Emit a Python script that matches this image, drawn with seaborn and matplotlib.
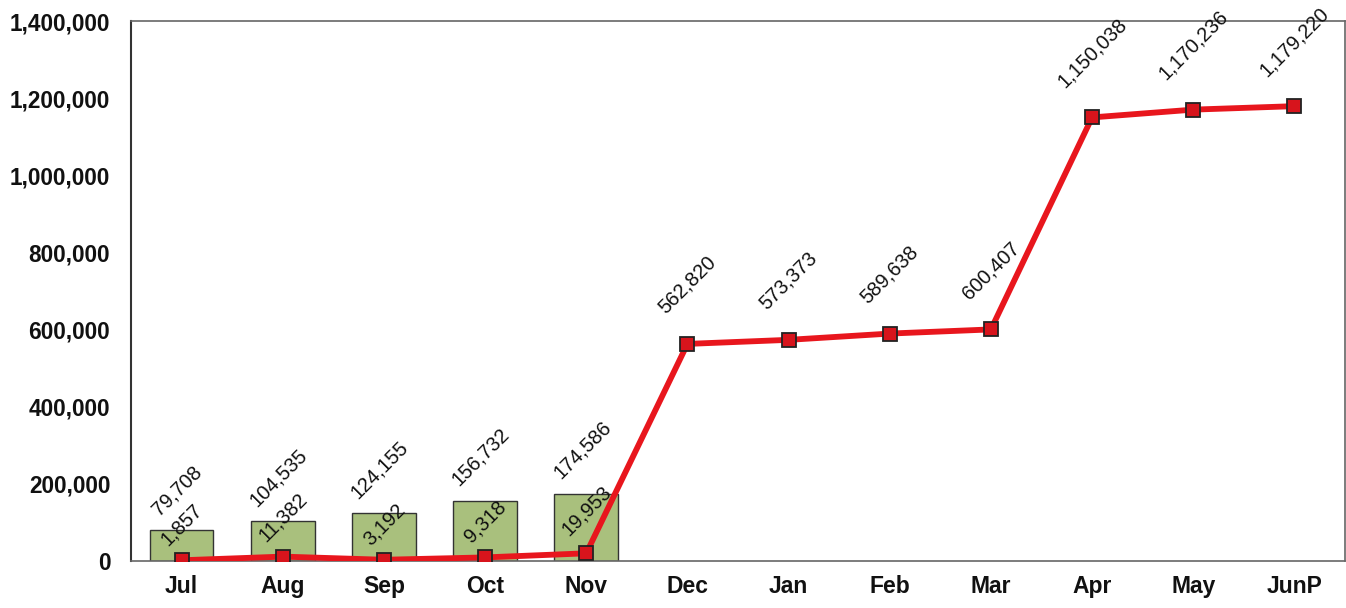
import numpy as np
import pandas as pd
import seaborn as sns
import matplotlib.pyplot as plt
from matplotlib.ticker import FuncFormatter

# Chart data
months = ["Jul", "Aug", "Sep", "Oct", "Nov", "Dec", "Jan", "Feb", "Mar", "Apr", "May", "JunP"]
bar_months = ["Jul", "Aug", "Sep", "Oct", "Nov"]
bar_values = [79708, 104535, 124155, 156732, 174586]
line_values = [1857, 11382, 3192, 9318, 19953, 562820, 573373, 589638, 600407, 1150038, 1170236, 1179220]
y_ticks = [0, 200000, 400000, 600000, 800000, 1000000, 1200000, 1400000]

sns.set_theme(style="white")
plt.rcParams["font.family"] = ["Liberation Sans", "DejaVu Sans"]

fig = plt.figure(figsize=(13.46, 6.08), dpi=100)
ax = fig.add_axes([131 / 1346, 47 / 608, 1214 / 1346, 540 / 608])

# Bars for the first months
bars_df = pd.DataFrame({"month": bar_months, "value": bar_values})
sns.barplot(data=bars_df, x="month", y="value", order=months, color="#A9C07D",
            saturation=1, width=0.63, edgecolor="#333333", linewidth=1, ax=ax)

# Red line with square markers
x_pos = np.arange(len(months))
sns.lineplot(x=x_pos, y=line_values, color="#E8161D", linewidth=4.2, marker="s",
             markersize=10, markerfacecolor="#D7141C", markeredgecolor="#222222",
             markeredgewidth=1.3, ax=ax, zorder=3)

# Data labels
for i, v in enumerate(bar_values):
    ax.annotate(f"{v:,}", (i, v), xytext=(-3, 8), textcoords="offset points",
                rotation=45, ha="center", va="bottom", fontsize=14.5, color="#111111")

line_offsets = [8, 8, 8, 8, 10, 19, 19, 19, 19, 19, 19, 19]
for i, v in enumerate(line_values):
    ax.annotate(f"{v:,}", (i, v), xytext=(0, line_offsets[i]), textcoords="offset points",
                rotation=45, ha="center", va="bottom", fontsize=14.5, color="#111111")

ax.set_xlim(-0.5, len(months) - 0.5)
ax.set_ylim(0, 1400000)
ax.set_yticks(y_ticks)
ax.yaxis.set_major_formatter(FuncFormatter(lambda v, p: f"{v:,.0f}"))
ax.set_xticks(x_pos)
ax.set_xticklabels(months)
ax.set_xlabel("")
ax.set_ylabel("")

ax.tick_params(axis="y", length=0, pad=15, labelsize=16.3)
ax.tick_params(axis="x", length=0, pad=10, labelsize=16.5)
for lab in ax.get_xticklabels() + ax.get_yticklabels():
    lab.set_fontweight("bold")
    lab.set_color("#111111")

for side in ["top", "right", "bottom"]:
    ax.spines[side].set_visible(True)
    ax.spines[side].set_color("#666666")
    ax.spines[side].set_linewidth(1.2)
ax.spines["left"].set_color("#333333")
ax.spines["left"].set_linewidth(1.5)

fig.savefig("out.png", dpi=100)
